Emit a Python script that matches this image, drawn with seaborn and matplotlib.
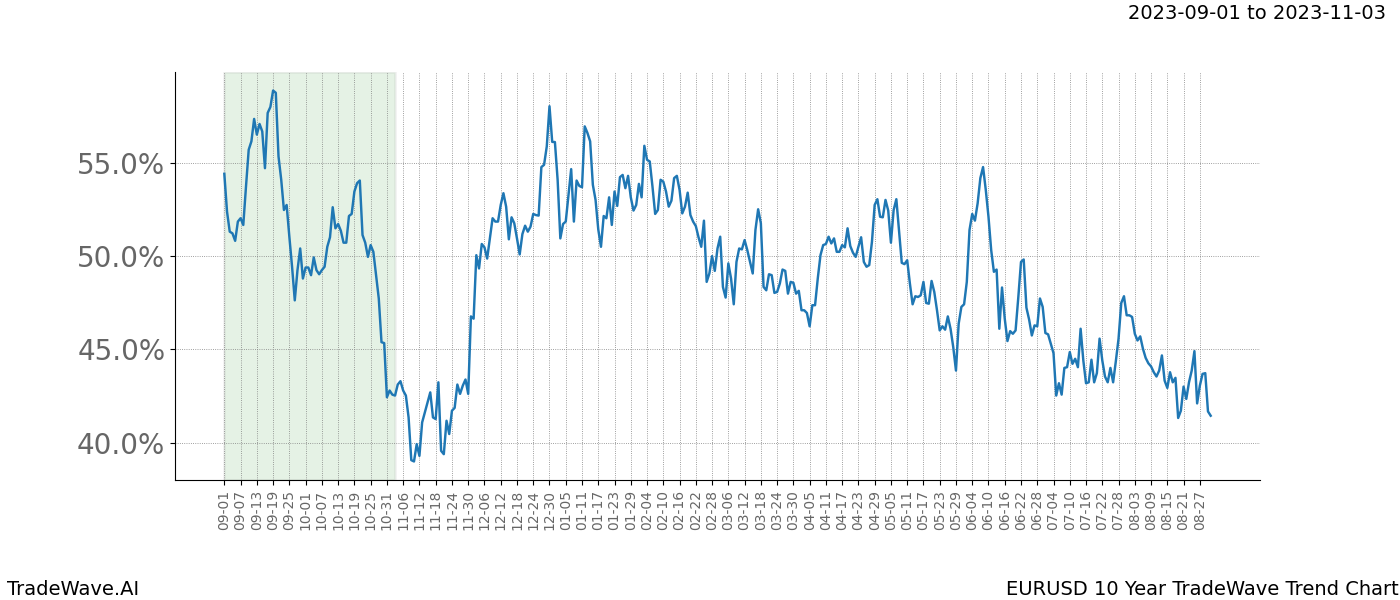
import matplotlib
matplotlib.use('Agg')
import matplotlib.pyplot as plt
import numpy as np
import pandas as pd
import seaborn as sns
from matplotlib.ticker import StrMethodFormatter


# Trend values (%) read day by day, 09-01 .. 08-30
values = [
    54.41, 52.38, 51.31, 51.22, 50.82, 51.85, 52.03, 51.67, 53.73, 55.70,
    56.15, 57.35, 56.51, 57.08, 56.68, 54.71, 57.67, 57.99, 58.87, 58.75,
    55.34, 54.09, 52.47, 52.74, 51.04, 49.43, 47.63, 49.25, 50.41, 48.80,
    49.39, 49.39, 48.98, 49.93, 49.25, 49.03, 49.25, 49.43, 50.50, 51.01,
    52.62, 51.49, 51.72, 51.36, 50.72, 50.72, 52.15, 52.26, 53.46, 53.91,
    54.05, 51.13, 50.72, 49.96, 50.59, 50.23, 48.98, 47.73, 45.39, 45.34,
    42.44,
    42.80, 42.58, 42.53, 43.12, 43.30, 42.80, 42.53, 41.36, 39.07, 39.00,
    39.93, 39.30, 41.09, 41.63, 42.17, 42.70, 41.36, 41.27, 43.24, 39.57,
    39.39, 41.18, 40.47, 41.72, 41.87, 43.12, 42.62, 43.06, 43.39, 42.62,
    46.77, 46.65, 50.05, 49.34, 50.65, 50.47, 49.87, 50.95, 52.03, 51.85,
    51.85, 52.74, 53.37, 52.65, 50.90, 52.08, 51.76, 50.95, 50.09, 51.18,
    51.63, 51.31, 51.58, 52.26, 52.20, 52.17, 54.77, 54.89, 55.88, 58.03,
    56.12,
    56.11, 54.09, 50.95, 51.72, 51.85, 53.28, 54.66, 51.85, 54.05, 53.76,
    53.69, 56.95, 56.60, 56.15, 53.82, 53.01, 51.43, 50.50, 52.15, 52.03,
    53.15, 51.67, 53.46, 52.69, 54.23, 54.35, 53.64, 54.30, 53.15, 52.44,
    52.74, 53.87, 53.15, 55.91, 55.16, 55.07, 53.73, 52.26, 52.47, 54.09,
    53.99, 53.46, 52.65, 52.97, 54.18, 54.30, 53.55, 52.29, 52.65, 53.40,
    52.20, 51.85, 51.61, 51.01, 50.50, 51.90, 48.62, 49.07, 50.00, 49.21,
    50.41,
    51.04, 48.35, 47.78, 49.61, 48.80, 47.42, 49.69, 50.41, 50.36, 50.86,
    50.32, 49.69, 49.07, 51.40, 52.51, 51.76, 48.35, 48.17, 49.03, 48.98,
    48.03, 48.08, 48.53, 49.28, 49.21, 47.99, 48.62, 48.57, 47.99, 48.14,
    47.10, 47.10, 46.95, 46.24, 47.37, 47.37, 48.80, 50.05, 50.59, 50.65,
    51.04, 50.68, 50.95, 50.23, 50.23, 50.59, 50.47, 51.49, 50.54, 50.18,
    49.96, 50.50, 51.01, 49.69, 49.43, 49.52, 50.77, 52.74, 53.05, 52.11,
    52.08,
    53.01, 52.44, 50.72, 52.47, 53.05, 51.31, 49.64, 49.57, 49.78, 48.53,
    47.42, 47.85, 47.81, 47.90, 48.62, 47.49, 47.45, 48.67, 48.08, 47.10,
    46.02, 46.24, 46.06, 46.77, 46.11, 45.12, 43.87, 46.38, 47.28, 47.42,
    48.62, 51.40, 52.26, 51.90, 52.83, 54.18, 54.77, 53.55, 52.11, 50.32,
    49.16, 49.28, 46.11, 48.32, 46.65, 45.45, 45.98, 45.84, 46.02, 47.78,
    49.69, 49.82, 47.24, 46.60, 45.75, 46.29, 46.24, 47.73, 47.28, 45.88,
    45.81,
    45.31, 44.80, 42.53, 43.19, 42.58, 44.01, 44.05, 44.86, 44.23, 44.50,
    44.05, 46.11, 44.41, 43.19, 43.24, 44.45, 43.24, 43.73, 45.58, 44.41,
    43.55, 43.24, 44.01, 43.24, 44.37, 45.58, 47.49, 47.85, 46.83, 46.83,
    46.74, 45.84, 45.48, 45.70, 45.04, 44.55, 44.26, 44.09, 43.78, 43.55,
    43.87, 44.68, 43.33, 42.94, 43.78, 43.24, 43.48, 41.33, 41.72, 43.01,
    42.35, 43.24, 43.87, 44.91, 42.11, 43.06, 43.69, 43.73, 41.68, 41.45,
]

tick_labels = [
    "09-01", "09-07", "09-13", "09-19", "09-25", "10-01", "10-07", "10-13",
    "10-19", "10-25", "10-31", "11-06", "11-12", "11-18", "11-24", "11-30",
    "12-06", "12-12", "12-18", "12-24", "12-30", "01-05", "01-11", "01-17",
    "01-23", "01-29", "02-04", "02-10", "02-16", "02-22", "02-28", "03-06",
    "03-12", "03-18", "03-24", "03-30", "04-05", "04-11", "04-17", "04-23",
    "04-29", "05-05", "05-11", "05-17", "05-23", "05-29", "06-04", "06-10",
    "06-16", "06-22", "06-28", "07-04", "07-10", "07-16", "07-22", "07-28",
    "08-03", "08-09", "08-15", "08-21", "08-27",
]

# highlighted window (days from 09-01): 2023-09-01 .. 2023-11-03
window = (0, 63)
window_text = "2023-09-01 to 2023-11-03"

df = pd.DataFrame({"day": np.arange(len(values)), "value": values})

fig, ax = plt.subplots(figsize=(14, 6), dpi=100)

ax.axvspan(window[0], window[1], facecolor='green', edgecolor='gray',
           linewidth=2, alpha=0.1)
sns.lineplot(data=df, x="day", y="value", ax=ax, color='#1f77b4', linewidth=1.75)

ax.set_xticks(np.arange(0, len(tick_labels) * 6, 6))
ax.set_xticklabels(tick_labels, rotation=90, fontsize=10, color='#666666')
ax.set_yticks([40, 45, 50, 55])
ax.yaxis.set_major_formatter(StrMethodFormatter('{x:.1f}%'))
ax.tick_params(axis='y', labelsize=20, labelcolor='#666666')
ax.set_xlabel('')
ax.set_ylabel('')
ax.grid(True, color='gray', linestyle=':', linewidth=0.6)
sns.despine(ax=ax)

fig.subplots_adjust(left=0.125, right=0.9, top=0.88, bottom=0.2)

fig.text(0.99, 0.993, window_text, ha='right', va='top', fontsize=14)
fig.text(0.005, 0.002, 'TradeWave.AI', ha='left', va='bottom', fontsize=14)
fig.text(0.999, 0.002, 'EURUSD 10 Year TradeWave Trend Chart', ha='right', va='bottom', fontsize=14)

plt.savefig('out.png')
plt.close()
